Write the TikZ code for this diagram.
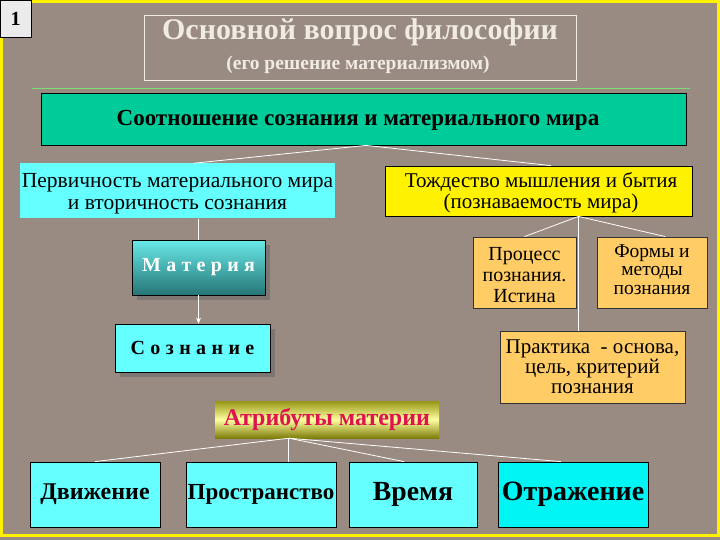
\documentclass[tikz,border=0pt]{standalone}
\usepackage{fontspec}
\setmainfont{Liberation Serif}
\usetikzlibrary{shadows,calc,arrows.meta}
\definecolor{bgc}{RGB}{153,139,129}
\definecolor{tealc}{RGB}{0,204,153}
\definecolor{cyanl}{RGB}{102,255,255}
\definecolor{cyanb}{RGB}{0,245,245}
\definecolor{orangec}{RGB}{255,204,102}
\definecolor{titlec}{RGB}{240,236,228}
\definecolor{redc}{RGB}{222,20,80}
\definecolor{matTop}{RGB}{105,232,232}
\definecolor{matBot}{RGB}{38,118,118}
\definecolor{attTop}{RGB}{150,150,20}
\definecolor{attMid}{RGB}{255,255,160}
\definecolor{attBot}{RGB}{125,125,10}
\newcommand{\fsz}[2]{\fontsize{#1}{#2}\selectfont}
\tikzset{
  box/.style={rectangle, inner sep=0pt, align=center, text=black},
  bbox/.style={box, draw=black, line width=0.8pt},
  txt/.style={rectangle, inner sep=0pt, align=center, text=black},
  link/.style={draw=white, line width=0.8pt},
  shad/.style={drop shadow={shadow xshift=5pt, shadow yshift=-5pt, fill=black!60, opacity=0.55}}
}
\begin{document}
\begin{tikzpicture}[x=1pt,y=-1pt]
\useasboundingbox (0,0) rectangle (720,540);
\fill[bgc] (0,0) rectangle (720,540);
\draw[yellow, line width=2.5pt] (1.3,1.3) rectangle (718.7,535.5);
\draw[green!55!white, line width=0.6pt, opacity=0.7] (32,88) -- (690,88);

% number box
\node[bbox, fill=black!8, minimum width=31, minimum height=37, font=\bfseries\fsz{20}{22}] (num) at (15.5,18.5) {1};

% title
\node[box, draw=titlec, line width=0.8pt, minimum width=432, minimum height=65] (tframe) at (360.5,47.5) {};
\node[txt, text=titlec, font=\bfseries\fsz{30}{32}] (title) at (360,32) {Основной вопрос философии};
\node[txt, text=titlec, font=\bfseries\fsz{19.5}{20}] (subtitle) at (358,65) {(его решение материализмом)};

% main
\node[bbox, fill=tealc, minimum width=645, minimum height=52] (rel) at (363.5,119) {};
\node[txt, font=\bfseries\fsz{23}{25}] (relt) at (358,120) {Соотношение сознания и материального мира};

\node[box, fill=cyanl, minimum width=315, minimum height=55] (perv) at (177.5,191) {};
\node[txt, font=\fsz{21.5}{22}] (pervt) at (177.5,194) {Первичность материального мира\\и вторичность сознания};
\node[bbox, fill=yellow, minimum width=307, minimum height=50] (tozh) at (538.5,191) {};
\node[txt, font=\fsz{21}{21}] (tozht) at (541,193) {Тождество мышления и бытия\\(познаваемость мира)};

\node[bbox, shad, top color=matTop, bottom color=matBot, minimum width=133, minimum height=55, text=white, font=\bfseries\fsz{20}{20}] (mat) at (198.5,267.5) {М\hspace{5.3pt}а\hspace{5.3pt}т\hspace{5.3pt}е\hspace{5.3pt}р\hspace{5.3pt}и\hspace{5.3pt}я};
\node[bbox, shad, fill=cyanl, minimum width=155, minimum height=48, font=\bfseries\fsz{20}{20}] (soz) at (192.5,348) {С\hspace{5.4pt}о\hspace{5.4pt}з\hspace{5.4pt}н\hspace{5.4pt}а\hspace{5.4pt}н\hspace{5.4pt}и\hspace{5.4pt}е};

\node[bbox, draw=black!80, fill=orangec, minimum width=103, minimum height=71] (proc) at (524.5,272.5) {};
\node[txt, font=\fsz{20}{21}] (proct) at (524.5,275) {Процесс\\познания.\\Истина};
\node[bbox, draw=black!80, fill=orangec, minimum width=110, minimum height=71] (form) at (652,272.5) {};
\node[txt, font=\fsz{19.5}{18.5}] (formt) at (652,269.5) {Формы и\\методы\\познания};
\node[bbox, draw=black!80, fill=orangec, minimum width=185, minimum height=72, font=\fsz{21}{20}] (prak) at (592.5,367) {Практика\ \ - основа,\\цель, критерий\\познания};

\node[box, top color=attTop, bottom color=attBot, middle color=attMid, minimum width=224, minimum height=37, text=redc, font=\bfseries\fsz{24}{25}] (attr) at (327,419.5) {Атрибуты материи};

\node[bbox, fill=cyanl, minimum width=130, minimum height=65, font=\bfseries\fsz{24}{25}] (dv) at (95,494.5) {Движение};
\node[bbox, fill=cyanl, minimum width=150, minimum height=65, font=\bfseries\fsz{23}{25}] (pr) at (261,494.5) {Пространство};
\node[bbox, fill=cyanl, minimum width=128, minimum height=65, font=\bfseries\fsz{27.7}{28}] (vr) at (413,494.5) {Время};
\node[bbox, fill=cyanb, minimum width=150, minimum height=65, font=\bfseries\fsz{28}{28}] (otr) at (573,494.5) {Отражение};

% junction coordinates
\coordinate (jr) at ($(rel.south west)!0.504!(rel.south east)$);
\coordinate (jp) at ($(perv.north west)!0.55!(perv.north east)$);
\coordinate (jt) at ($(tozh.north west)!0.54!(tozh.north east)$);
\coordinate (jy) at ($(tozh.south west)!0.63!(tozh.south east)$);
\coordinate (jf) at ($(form.north west)!0.62!(form.north east)$);
\coordinate (ja) at ($(attr.south west)!0.33!(attr.south east)$);
\coordinate (jv) at ($(vr.north west)!0.43!(vr.north east)$);
\coordinate (jo) at ($(otr.north west)!0.42!(otr.north east)$);

% connectors
\draw[link] (jr) -- (jp);
\draw[link] (jr) -- (jt);
\draw[link] (perv.south -| mat.north) -- (mat.north);
\draw[link, -{Stealth[length=6pt,width=5pt]}] (mat.south) -- (mat.south |- soz.north);
\draw[link] (jy) -- (proc.north);
\draw[link] (jy) -- (jf);
\draw[link] (jy) -- (jy |- prak.north);
\draw[link] (ja) -- (dv.north);
\draw[link] (ja) -- (ja |- pr.north);
\draw[link] (ja) -- (jv);
\draw[link] (ja) -- (jo);
\end{tikzpicture}
\end{document}
